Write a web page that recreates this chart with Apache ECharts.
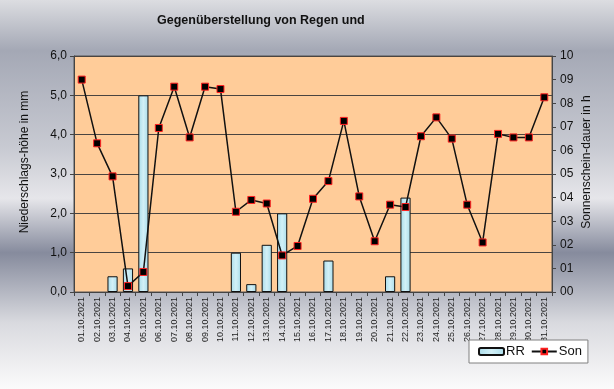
<!DOCTYPE html>
<html>
<head>
<meta charset="utf-8">
<script src="https://cdn.jsdelivr.net/npm/echarts@6/dist/echarts.min.js"></script>
<style>html,body{margin:0;padding:0;}#c{width:614px;height:389px;}</style>
</head>
<body>
<div id="c"></div>
<script>
const categories = ['01.10.2021','02.10.2021','03.10.2021','04.10.2021','05.10.2021','06.10.2021','07.10.2021','08.10.2021','09.10.2021','10.10.2021','11.10.2021','12.10.2021','13.10.2021','14.10.2021','15.10.2021','16.10.2021','17.10.2021','18.10.2021','19.10.2021','20.10.2021','21.10.2021','22.10.2021','23.10.2021','24.10.2021','25.10.2021','26.10.2021','27.10.2021','28.10.2021','29.10.2021','30.10.2021','31.10.2021'];
const rainMm = [null,null,0.4,0.6,5.0,null,null,null,null,null,1.0,0.2,1.2,2.0,null,null,0.8,null,null,null,0.4,2.4,null,null,null,null,null,null,null,null,null];
const sunHours = [9.0,6.3,4.9,0.25,0.85,6.95,8.7,6.55,8.7,8.6,3.4,3.9,3.75,1.55,1.95,3.95,4.7,7.25,4.05,2.15,3.7,3.6,6.6,7.4,6.5,3.7,2.1,6.7,6.55,6.55,8.25];
const leftTicks = {min: 0, max: 6, interval: 1};
const rightTicks = {min: 0, max: 10, interval: 1};

const chart = echarts.init(document.getElementById('c'));
const font = 'Liberation Sans, Arial, sans-serif';
chart.setOption({
  animation: false,
  backgroundColor: {
    type: 'linear', x: 0, y: 0, x2: 0, y2: 1,
    colorStops: [
      {offset: 0, color: '#dcdde1'},
      {offset: 0.13, color: '#a4a8b5'},
      {offset: 0.38, color: '#c8cad2'},
      {offset: 0.51, color: '#e6e6ea'},
      {offset: 0.65, color: '#868b9d'},
      {offset: 0.83, color: '#d9dadf'},
      {offset: 1, color: '#fbfbfb'}
    ]
  },
  title: {
    text: 'Gegenüberstellung von Regen und',
    left: 152, top: 9,
    textStyle: {fontFamily: font, fontSize: 12.5, fontWeight: 'bold', color: '#111'}
  },
  legend: {
    left: 469, top: 340,
    backgroundColor: '#ffffff',
    borderColor: '#808080', borderWidth: 1, borderRadius: 0,
    padding: [5, 6, 5, 9],
    itemGap: 6,
    itemWidth: 25, itemHeight: 7,
    textStyle: {fontFamily: font, fontSize: 13, color: '#111', padding: [0, 0, 0, -3]},
    data: ['RR', 'Son']
  },
  grid: {
    left: 74, right: 62, top: 56, bottom: 97,
    show: true, backgroundColor: '#ffcc99', borderColor: '#555', borderWidth: 1
  },
  xAxis: {
    type: 'category',
    data: categories,
    boundaryGap: true,
    axisLine: {lineStyle: {color: '#444'}},
    axisTick: {show: true, interval: 0, length: 4, lineStyle: {color: '#444'}},
    axisLabel: {rotate: 90, interval: 0, fontSize: 9, fontFamily: font, color: '#222', margin: 5}
  },
  yAxis: [
    {
      type: 'value', min: leftTicks.min, max: leftTicks.max, interval: leftTicks.interval,
      axisLine: {show: true, lineStyle: {color: '#444'}},
      axisTick: {show: true, length: 4, lineStyle: {color: '#444'}},
      axisLabel: {fontSize: 12, fontFamily: font, color: '#111', margin: 7,
        formatter: v => v.toFixed(1).replace('.', ',')},
      splitLine: {show: true, lineStyle: {color: '#4a4440', width: 1}}
    },
    {
      type: 'value', min: rightTicks.min, max: rightTicks.max, interval: rightTicks.interval,
      position: 'right',
      axisLine: {show: true, lineStyle: {color: '#444'}},
      axisTick: {show: true, length: 4, lineStyle: {color: '#444'}},
      axisLabel: {fontSize: 12, fontFamily: font, color: '#111', margin: 8,
        formatter: v => String(v).padStart(2, '0')},
      splitLine: {show: false}
    }
  ],
  graphic: [
    {type: 'text', x: 25, y: 162, rotation: Math.PI / 2,
      style: {text: 'Niederschlags-höhe in mm', fontFamily: font, fontSize: 12, fill: '#111',
        textAlign: 'center', textVerticalAlign: 'middle'}},
    {type: 'text', x: 587, y: 162, rotation: Math.PI / 2,
      style: {text: 'Sonnenschein-dauer in h', fontFamily: font, fontSize: 12, fill: '#111',
        textAlign: 'center', textVerticalAlign: 'middle'}}
  ],
  series: [
    {
      name: 'RR', type: 'bar', yAxisIndex: 0, data: rainMm,
      barWidth: '66%',
      itemStyle: {
        color: {type: 'linear', x: 0, y: 0, x2: 1, y2: 0,
          colorStops: [{offset: 0, color: '#a9dcea'}, {offset: 0.5, color: '#d2f0f7'}, {offset: 1, color: '#a9dcea'}]},
        borderColor: '#111', borderWidth: 1
      }
    },
    {
      name: 'Son', type: 'line', yAxisIndex: 1, data: sunHours,
      symbol: 'rect', symbolSize: 7,
      lineStyle: {color: '#111', width: 1.5},
      itemStyle: {color: '#000', borderColor: '#ff2020', borderWidth: 1}
    }
  ]
});
</script>
</body>
</html>
